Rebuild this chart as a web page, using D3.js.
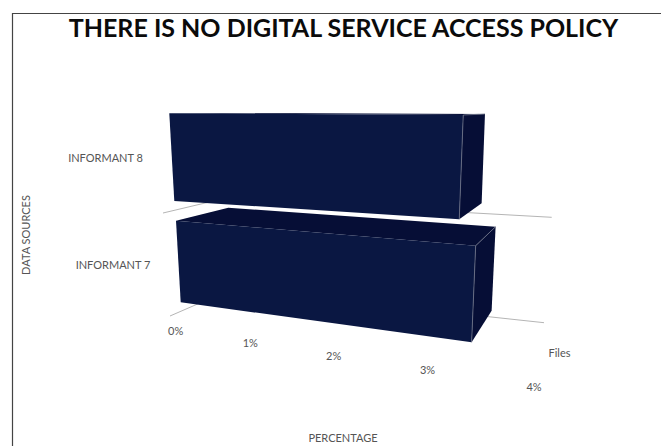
<!DOCTYPE html>
<html>
<head>
<meta charset="utf-8">
<script src="https://cdn.jsdelivr.net/npm/d3@7"></script>
<style>
  html, body { margin: 0; padding: 0; background: #fff; }
  svg { display: block; font-family: Lato, "Open Sans", sans-serif; }
</style>
</head>
<body>
<svg id="chart" width="661" height="446"></svg>
<script>
// Chart content
const chartTitle = "THERE IS NO DIGITAL SERVICE ACCESS POLICY";
const categories = ["INFORMANT 8", "INFORMANT 7"];
const percentages = [3.4, 3.4];
const valueTicks = [0, 1, 2, 3, 4];
const seriesName = "Files";
const xAxisTitle = "PERCENTAGE";
const yAxisTitle = "DATA SOURCES";

const svg = d3.select("#chart");

// Value axis, foreshortened towards the viewer
const depthBend = -0.0528;
const valueScale = d3.scaleLinear().domain([0, 4]).range([0, 1]);
const along = v => valueScale(v) * (1 + 4 * depthBend) / (1 + depthBend * v);

// Projected rails of each bar's box, running from 0% to 4%
const rails = {
  "INFORMANT 8": {
    frontTop: [[169.3, 113.3], [529, 115.4]],
    frontBottom: [[174.3, 201], [523, 223.4]],
    backTop: [[222, 113], [543.8, 114.2]],
    backBottom: [[227, 186], [538.6, 207.2]],
    floor: [[163, 213], [222, 199], [551.7, 217.3]]
  },
  "INFORMANT 7": {
    frontTop: [[176, 220.7], [542.7, 251.3]],
    frontBottom: [[180.7, 302.3], [536.7, 351.2]],
    backTop: [[228.3, 207.7], [555.4, 230.9]],
    backBottom: [[232, 289], [549.7, 315.5]],
    floor: [[170, 316], [232, 289], [544, 322.7]]
  }
};
const tickRail = [[175.7, 331.7], [534, 387.3]];
const at = (rail, v) => d3.interpolateArray(rail[0], rail[1])(along(v));

const line = d3.line();
const textGray = "#555555";

// Frame around the figure: top and left rules only
svg.append("path")
  .attr("d", line([[12.5, 446], [12.5, 13.5], [661, 13.5]]))
  .attr("fill", "none").attr("stroke", "#444").attr("stroke-width", 1.2);

svg.append("text")
  .attr("x", 343.5).attr("y", 37)
  .attr("text-anchor", "middle")
  .attr("font-size", 25).attr("font-weight", 700).attr("fill", "#0b0b0b")
  .text(chartTitle);

// Floor lines sit behind the boxes
categories.forEach(cat => {
  const f = rails[cat].floor;
  svg.append("path")
    .attr("d", line([f[0], f[1], f[2]]))
    .attr("fill", "none").attr("stroke", "#b5b5b5").attr("stroke-width", 1);
});

// One box per category: top, end cap, then front face
const frontFill = "#0a1742", darkFill = "#060e36", edge = "#6f7488";
const boxes = svg.append("g").selectAll("g")
  .data(categories.map((c, i) => ({ cat: c, value: percentages[i] })))
  .join("g");

boxes.each(function (d) {
  const g = d3.select(this);
  const r = rails[d.cat];
  const quad = (a, va, b, vb, c, vc, e, ve) =>
    line([at(a, va), at(b, vb), at(c, vc), at(e, ve)]) + "Z";

  g.append("path")
    .attr("d", quad(r.backTop, 0, r.backTop, d.value, r.frontTop, d.value, r.frontTop, 0))
    .attr("fill", darkFill);
  g.append("path")
    .attr("d", quad(r.frontTop, d.value, r.backTop, d.value, r.backBottom, d.value, r.frontBottom, d.value))
    .attr("fill", darkFill);
  g.append("path")
    .attr("d", quad(r.frontTop, 0, r.frontTop, d.value, r.frontBottom, d.value, r.frontBottom, 0))
    .attr("fill", frontFill);

  // Lit edges along the end of the box
  g.append("path")
    .attr("d", line([at(r.backTop, d.value), at(r.frontTop, d.value), at(r.frontBottom, d.value)]))
    .attr("fill", "none").attr("stroke", edge).attr("stroke-width", 0.8);
});

// Value tick labels
svg.append("g").selectAll("text")
  .data(valueTicks)
  .join("text")
  .attr("x", d => at(tickRail, d)[0])
  .attr("y", d => at(tickRail, d)[1] + 3.5)
  .attr("text-anchor", "middle")
  .attr("font-size", 11).attr("fill", textGray)
  .text(d => d + "%");

// Category labels
const categoryAnchor = { "INFORMANT 8": [105.5, 161.5], "INFORMANT 7": [113, 268.7] };
svg.append("g").selectAll("text")
  .data(categories)
  .join("text")
  .attr("x", d => categoryAnchor[d][0])
  .attr("y", d => categoryAnchor[d][1])
  .attr("text-anchor", "middle")
  .attr("font-size", 11).attr("fill", textGray)
  .text(d => d);

svg.append("text")
  .attr("x", 559.5).attr("y", 356.5)
  .attr("text-anchor", "middle")
  .attr("font-size", 11).attr("fill", textGray)
  .text(seriesName);

svg.append("text")
  .attr("x", 343).attr("y", 441.5)
  .attr("text-anchor", "middle")
  .attr("font-size", 11).attr("fill", textGray)
  .text(xAxisTitle);

svg.append("text")
  .attr("transform", "translate(30,235) rotate(-90)")
  .attr("text-anchor", "middle")
  .attr("font-size", 11).attr("fill", textGray)
  .text(yAxisTitle);
</script>
</body>
</html>
